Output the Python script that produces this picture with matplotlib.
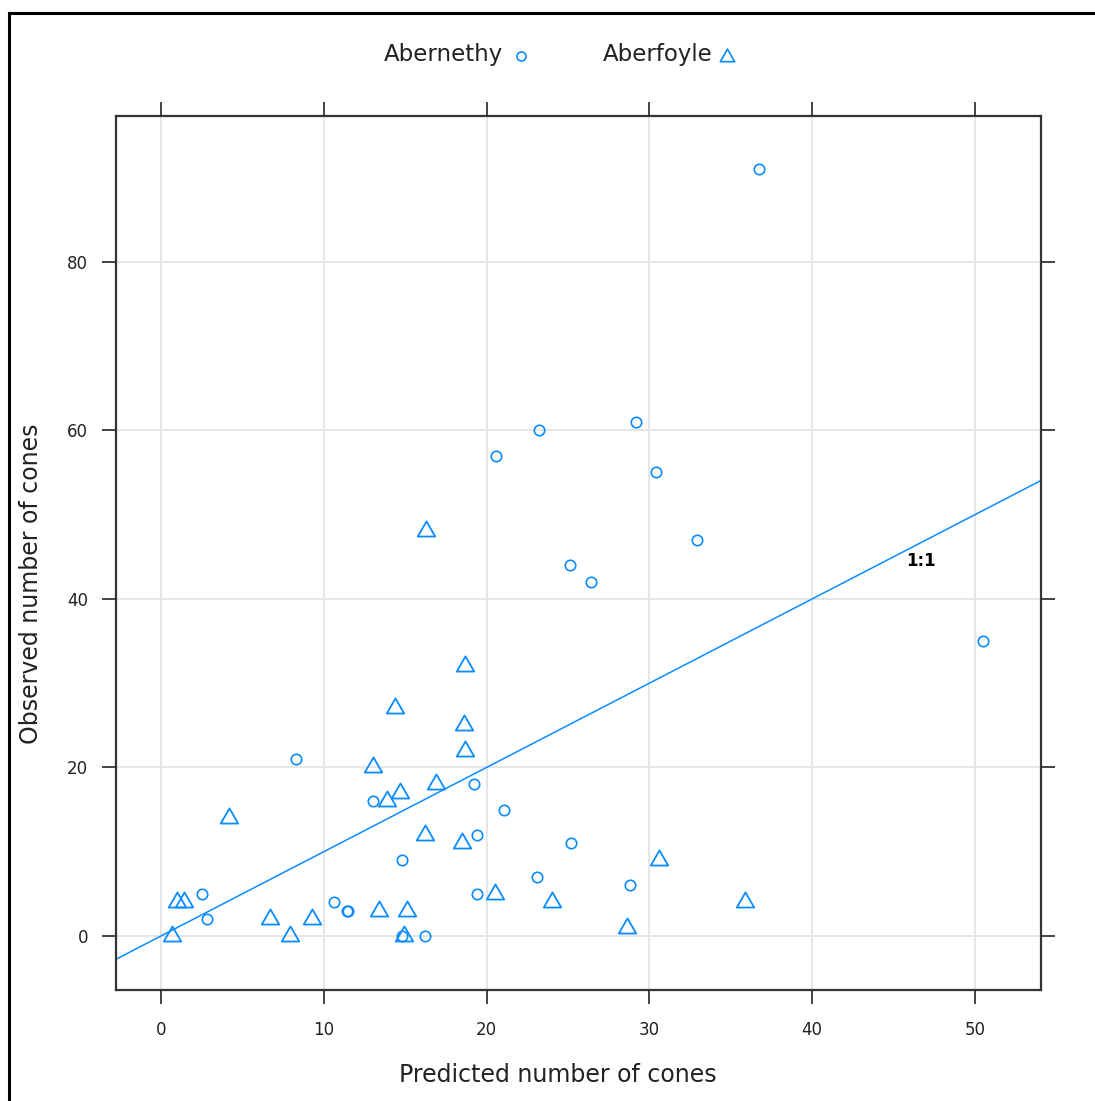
import matplotlib.pyplot as plt
from matplotlib.lines import Line2D
from matplotlib.path import Path

# predicted vs observed cone counts for two sites
aberne_pred = [36.7, 29.2, 23.2, 20.6, 30.4, 32.9, 25.1, 26.4, 50.5, 8.3,
               19.2, 13.0, 21.1, 19.4, 25.2, 14.8, 23.1, 28.8, 2.5, 19.4,
               10.6, 11.5, 11.4, 2.8, 16.2, 14.8]
aberne_obs = [91, 61, 60, 57, 55, 47, 44, 42, 35, 21,
              18, 16, 15, 12, 11, 9, 7, 6, 5, 5,
              4, 3, 3, 2, 0, 0]

aberf_pred = [16.3, 18.7, 14.4, 18.6, 18.7, 13.0, 14.7, 13.9, 16.9, 4.2,
              16.2, 18.5, 30.6, 20.5, 24.0, 35.9, 1.0, 1.4, 6.7, 9.3,
              13.4, 15.1, 7.9, 0.7, 28.6, 14.9]
aberf_obs = [48, 32, 27, 25, 22, 20, 17, 16, 18, 14,
             12, 11, 9, 5, 4, 4, 4, 4, 2, 2,
             3, 3, 0, 0, 1, 0]

x_ticks = [0, 10, 20, 30, 40, 50]
y_ticks = [0, 20, 40, 60, 80]

blue = '#0a8cff'
ink = '#222222'
# closed equilateral triangle marker
tri = Path([(0, 1), (-0.866, -0.5), (0.866, -0.5), (0, 1)],
           [Path.MOVETO, Path.LINETO, Path.LINETO, Path.CLOSEPOLY])

fig = plt.figure(figsize=(10.95, 11.01), dpi=100)
ax = fig.add_axes([116 / 1095, 1 - 990 / 1101, 925 / 1095, 874 / 1101])

ax.set_xlim(-2.76, 54.05)
ax.set_ylim(-6.41, 97.3)

ax.set_xticks(x_ticks)
ax.set_yticks(y_ticks)
ax.grid(True, color='#e6e6e6', linewidth=1.4)
ax.set_axisbelow(True)

ax.axline((0, 0), slope=1, color=blue, linewidth=1.1)
ax.text(46.7, 44.5, '1:1', fontsize=12, fontweight='bold', ha='center', va='center')

ax.plot(aberne_pred, aberne_obs, linestyle='none', marker='o', markersize=7.5,
        markerfacecolor='none', markeredgecolor=blue, markeredgewidth=1.2)
ax.plot(aberf_pred, aberf_obs, linestyle='none', marker=tri, markersize=14.5,
        markerfacecolor='none', markeredgecolor=blue, markeredgewidth=1.3)

for side in ax.spines.values():
    side.set_color('#333333')
    side.set_linewidth(1.6)

ax.tick_params(direction='out', length=10, width=1.2, color=ink,
               labelsize=12, labelcolor=ink, pad=12,
               top=True, right=True)
ax.tick_params(axis='y', pad=10)

ax.set_xlabel('Predicted number of cones', fontsize=17, color=ink)
ax.set_ylabel('Observed number of cones', fontsize=17, color=ink)
ax.xaxis.set_label_coords(0.478, -0.083)
ax.yaxis.set_label_coords(-0.079, 0.4645)

# key above the panel
fig.text(503 / 1095, 1 - 55 / 1101, 'Abernethy', fontsize=16.5, ha='right', va='center',
         color=ink)
fig.add_artist(Line2D([521 / 1095], [1 - 56 / 1101], transform=fig.transFigure,
                      marker='o', markersize=6.5, markerfacecolor='none',
                      markeredgecolor=blue, markeredgewidth=1.2))
fig.text(713 / 1095, 1 - 55 / 1101, 'Aberfoyle', fontsize=16.5, ha='right', va='center',
         color=ink)
fig.add_artist(Line2D([727 / 1095], [1 - 57 / 1101], transform=fig.transFigure,
                      marker=tri, markersize=12, markerfacecolor='none',
                      markeredgecolor=blue, markeredgewidth=1.2))

# outer frame (left and top edges)
fig.add_artist(Line2D([9 / 1095, 9 / 1095], [0, 1 - 13 / 1101], transform=fig.transFigure,
                      color='black', linewidth=2.2, solid_capstyle='projecting'))
fig.add_artist(Line2D([9 / 1095, 1], [1 - 13 / 1101, 1 - 13 / 1101], transform=fig.transFigure,
                      color='black', linewidth=2.2, solid_capstyle='projecting'))

fig.savefig('out.png', dpi=100)
